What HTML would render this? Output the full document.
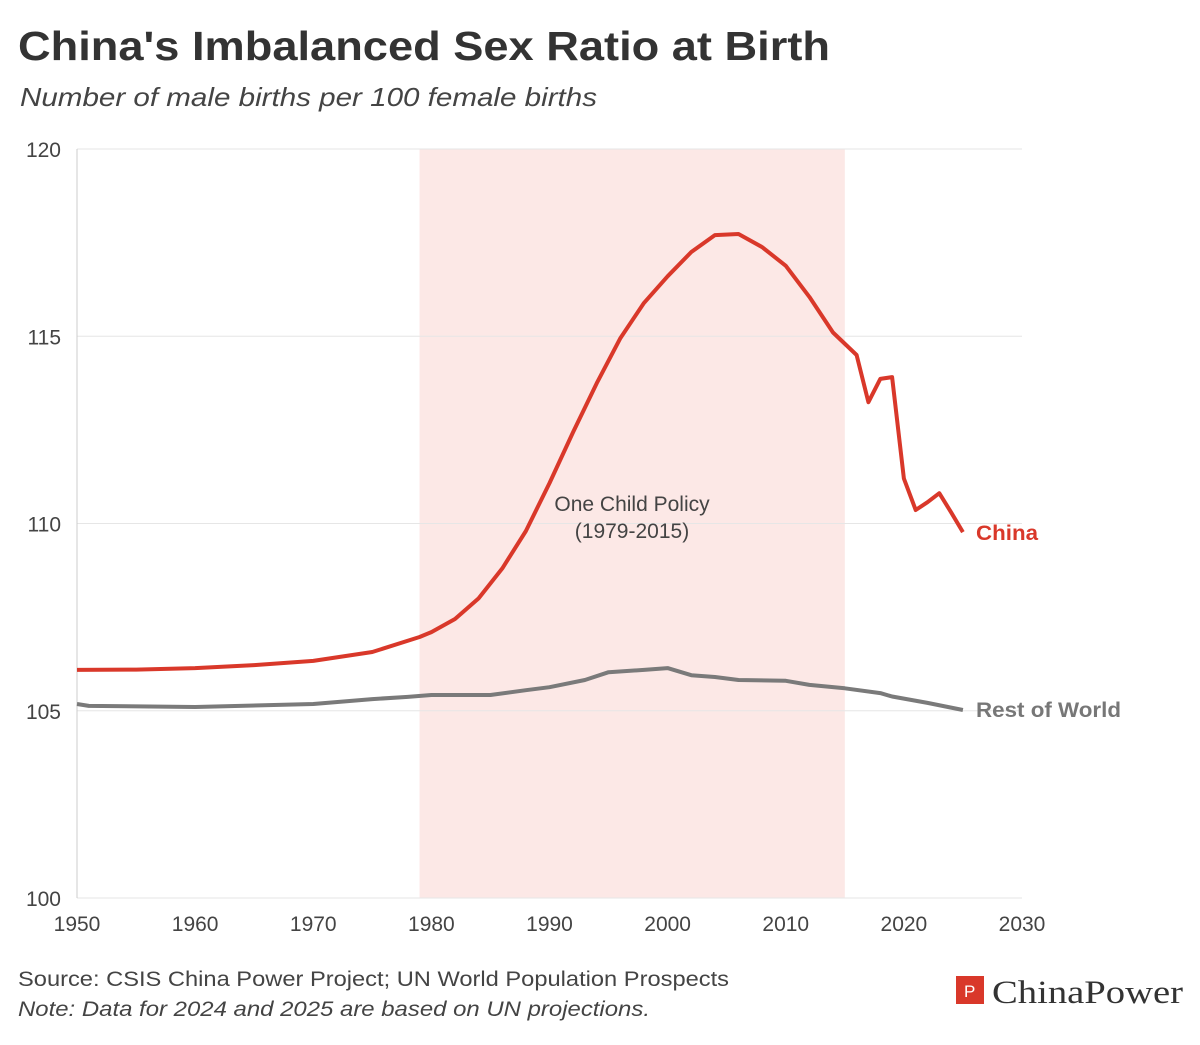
<!DOCTYPE html>
<html><head><meta charset="utf-8"><style>
body{margin:0;background:#fff;width:1200px;height:1040px;overflow:hidden;font-family:"Liberation Sans",sans-serif}
</style></head><body>
<svg width="1200" height="1040" id="svg" xmlns="http://www.w3.org/2000/svg">
<text x="18" y="60" font-size="41" font-weight="bold" fill="#333" textLength="812" lengthAdjust="spacingAndGlyphs">China's Imbalanced Sex Ratio at Birth</text>
<text x="20" y="106" font-size="26" font-style="italic" fill="#444" textLength="577" lengthAdjust="spacingAndGlyphs">Number of male births per 100 female births</text>
<g id="plot"></g>
<text x="18" y="986" font-size="21" fill="#444" textLength="711" lengthAdjust="spacingAndGlyphs">Source: CSIS China Power Project; UN World Population Prospects</text>
<text x="18" y="1016" font-size="21" font-style="italic" fill="#444" textLength="632" lengthAdjust="spacingAndGlyphs">Note: Data for 2024 and 2025 are based on UN projections.</text>
<g>
<rect x="956" y="976" width="28" height="28" fill="#d9382a"/>
<text x="964" y="997" font-size="17" fill="#fff">P</text>
<text x="992" y="1003" font-size="33" font-family="Liberation Serif,serif" fill="#333" textLength="191" lengthAdjust="spacingAndGlyphs">ChinaPower</text>
</g>
</svg>
<script>
const chinaYears=[1950,1955,1960,1965,1970,1975,1979,1980,1982,1984,1986,1988,1990,1992,1994,1996,1998,2000,2002,2004,2006,2008,2010,2012,2014,2016,2017,2018,2019,2020,2021,2022,2023,2024,2025];
const chinaValues=[106.09,106.1,106.14,106.22,106.33,106.57,106.97,107.1,107.45,108.0,108.8,109.8,111.08,112.44,113.75,114.95,115.89,116.6,117.25,117.7,117.73,117.38,116.88,116.05,115.1,114.5,113.24,113.86,113.91,111.2,110.36,110.57,110.81,110.3,109.77];
const rowYears=[1950,1951,1960,1970,1975,1978,1980,1985,1988,1990,1993,1995,1998,2000,2002,2004,2006,2010,2012,2015,2018,2019,2022,2025];
const rowValues=[105.18,105.13,105.1,105.18,105.31,105.37,105.42,105.42,105.55,105.63,105.82,106.03,106.09,106.14,105.95,105.9,105.82,105.8,105.69,105.6,105.47,105.38,105.21,105.02];
const xTicks=[1950,1960,1970,1980,1990,2000,2010,2020,2030];
const yTicks=[100,105,110,115,120];
const policy=[1979,2015];
const X=y=>77+(y-1950)*(945/80);
const Y=v=>898-(v-100)*(749/20);
const NS='http://www.w3.org/2000/svg';
const g=document.getElementById('plot');
function mk(t,a,txt){const e=document.createElementNS(NS,t);for(const k in a)e.setAttribute(k,a[k]);if(txt!=null)e.textContent=txt;g.appendChild(e);return e;}
let r=mk('rect',{x:X(policy[0]),y:Y(120),width:X(policy[1])-X(policy[0]),height:Y(100)-Y(120),fill:'#fce8e6'});


yTicks.forEach(v=>{
 let l=mk('line',{x1:77,x2:1022,y1:Y(v),y2:Y(v),stroke:'#e6e6e6','stroke-width':1});
 
 
 let t=mk('text',{x:61,y:Y(v)+8,'font-size':21,fill:'#444','text-anchor':'end'},v);
 
 
});
let ax=mk('line',{x1:77,x2:77,y1:Y(120),y2:Y(100),stroke:'#ccc'});


xTicks.forEach(v=>{
 let t=mk('text',{x:X(v),y:931,'font-size':21,fill:'#444','text-anchor':'middle'},v);
 
 
});
let a1=mk('text',{x:632,y:511,'font-size':21,fill:'#444','text-anchor':'middle'},'One Child Policy');


let a2=mk('text',{x:632,y:538,'font-size':21,fill:'#444','text-anchor':'middle'},'(1979-2015)');


function line(xs,vs,col,name){
 const d=xs.map((y,i)=>(i?'L':'M')+X(y).toFixed(1)+','+Y(vs[i]).toFixed(1)).join(' ');
 let p=mk('path',{d:d,fill:'none',stroke:col,'stroke-width':4,'stroke-linejoin':'round'});
 
 
}
line(rowYears,rowValues,'#7a7a7a','rest-of-world-line');
line(chinaYears,chinaValues,'#d9382a','china-line');
let lc=mk('text',{x:976,y:Y(chinaValues[chinaValues.length-1])+8,'font-size':21,'font-weight':'bold',fill:'#d9382a',textLength:62,lengthAdjust:'spacingAndGlyphs'},'China');


let lr=mk('text',{x:976,y:Y(rowValues[rowValues.length-1])+7,'font-size':21,'font-weight':'bold',fill:'#777',textLength:145,lengthAdjust:'spacingAndGlyphs'},'Rest of World');


</script>
</body></html>
